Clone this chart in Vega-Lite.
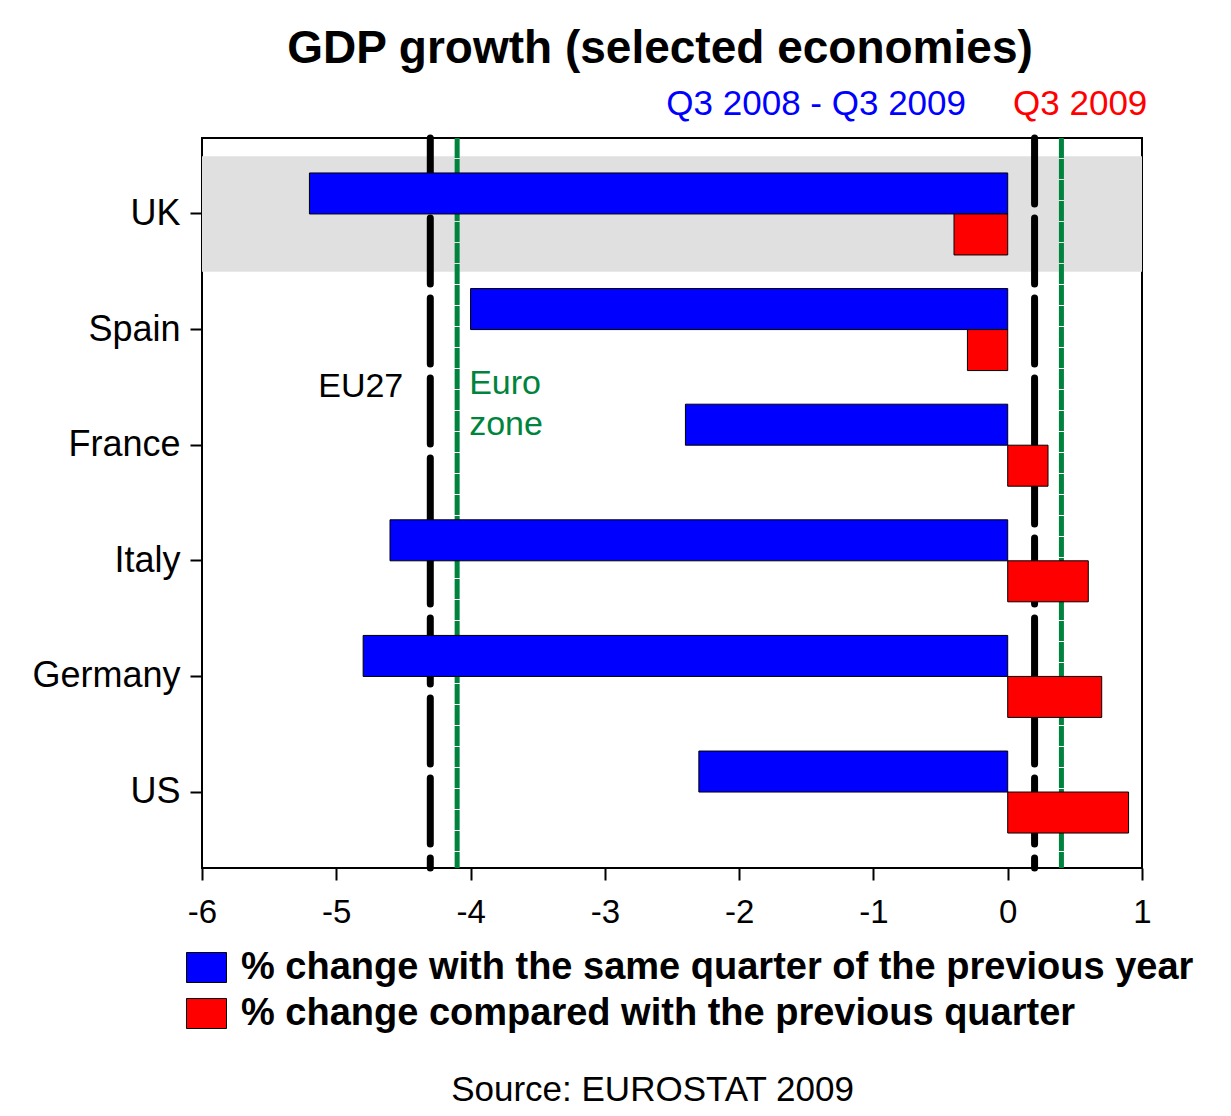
{
  "$schema": "https://vega.github.io/schema/vega-lite/v6.json",
  "width": 940,
  "height": 730,
  "autosize": {"type": "none"},
  "padding": {"left": 202, "top": 138, "right": 89, "bottom": 248},
  "background": "white",
  "title": {
    "text": "GDP growth (selected economies)",
    "fontSize": 46,
    "fontWeight": "bold",
    "font": "Liberation Sans",
    "color": "black",
    "anchor": "middle",
    "frame": "group",
    "dx": -12,
    "offset": 13
  },
  "config": {
    "font": "Liberation Sans",
    "view": {"stroke": "black", "strokeWidth": 2}
  },
  "datasets": {
    "bars": [
      {"country": "UK", "series": "% change with the same quarter of the previous year", "value": -5.2},
      {"country": "UK", "series": "%  change compared with the previous quarter", "value": -0.4},
      {"country": "Spain", "series": "% change with the same quarter of the previous year", "value": -4.0},
      {"country": "Spain", "series": "%  change compared with the previous quarter", "value": -0.3},
      {"country": "France", "series": "% change with the same quarter of the previous year", "value": -2.4},
      {"country": "France", "series": "%  change compared with the previous quarter", "value": 0.3},
      {"country": "Italy", "series": "% change with the same quarter of the previous year", "value": -4.6},
      {"country": "Italy", "series": "%  change compared with the previous quarter", "value": 0.6},
      {"country": "Germany", "series": "% change with the same quarter of the previous year", "value": -4.8},
      {"country": "Germany", "series": "%  change compared with the previous quarter", "value": 0.7},
      {"country": "US", "series": "% change with the same quarter of the previous year", "value": -2.3},
      {"country": "US", "series": "%  change compared with the previous quarter", "value": 0.9}
    ],
    "lines": [
      {"group": "EU27", "value": -4.3},
      {"group": "EU27", "value": 0.2},
      {"group": "Euro zone", "value": -4.1},
      {"group": "Euro zone", "value": 0.4}
    ],
    "band": [{"country": "UK"}],
    "labels": [
      {"label": "EU27", "value": -4.3, "country": "France"},
      {"label": "Euro zone", "value": -4.1, "country": "France"}
    ]
  },
  "layer": [
    {
      "data": {"name": "band"},
      "mark": {"type": "rect", "color": "#e0e0e0"},
      "encoding": {
        "y": {"field": "country", "type": "nominal", "axis": null,
              "scale": {"domain": ["UK", "Spain", "France", "Italy", "Germany", "US"], "paddingInner": 0, "paddingOuter": 0.157}},
        "x": {"datum": -6, "type": "quantitative", "axis": null},
        "x2": {"datum": 1}
      }
    },
    {
      "data": {"name": "lines"},
      "transform": [{"filter": "datum.group === 'EU27'"}],
      "mark": {"type": "rule", "color": "black", "strokeWidth": 7, "strokeDash": [66, 14], "strokeCap": "round"},
      "encoding": {
        "x": {"field": "value", "type": "quantitative",
              "axis": {
                "orient": "top",
                "values": [-1.43, 0.536],
                "labelExpr": "datum.value < 0 ? 'Q3 2008 - Q3 2009' : 'Q3 2009'",
                "labelColor": {"condition": {"test": "datum.value < 0", "value": "#0000ff"}, "value": "#ff0000"},
                "labelFontSize": 35,
                "labelFont": "Liberation Sans",
                "labelPadding": 17,
                "labelLimit": 1000,
                "labelFlush": false,
                "labelOverlap": false,
                "labelBound": false,
                "ticks": false,
                "tickSize": 0,
                "domain": false,
                "grid": false,
                "title": null
              }}
      }
    },
    {
      "data": {"name": "lines"},
      "transform": [{"filter": "datum.group === 'Euro zone'"}],
      "mark": {"type": "rule", "color": "#00843d", "strokeWidth": 5, "strokeDash": [20, 1]},
      "encoding": {
        "x": {"field": "value", "type": "quantitative", "axis": null}
      }
    },
    {
      "mark": {"type": "rule", "color": "#333333", "strokeWidth": 1},
      "encoding": {
        "x": {"datum": 0, "type": "quantitative", "axis": null}
      }
    },
    {
      "data": {"name": "bars"},
      "mark": {"type": "bar", "stroke": "black", "strokeWidth": 1},
      "encoding": {
        "y": {"field": "country", "type": "nominal",
              "scale": {"domain": ["UK", "Spain", "France", "Italy", "Germany", "US"], "paddingInner": 0, "paddingOuter": 0.157},
              "axis": {"title": null, "domain": false, "tickSize": 12, "tickWidth": 2, "tickColor": "black",
                       "labelFontSize": 36, "labelColor": "black", "labelPadding": 10, "labelFont": "Liberation Sans"}},
        "yOffset": {"field": "series", "type": "nominal",
                    "scale": {"domain": ["% change with the same quarter of the previous year", "%  change compared with the previous quarter"], "paddingInner": 0, "paddingOuter": 0.41}},
        "x": {"field": "value", "type": "quantitative",
              "scale": {"domain": [-6, 1], "nice": false, "zero": false},
              "axis": {"orient": "bottom", "values": [-6, -5, -4, -3, -2, -1, 0, 1],
                       "labelExpr": "datum.value < 0 ? '-' + abs(datum.value) : '' + datum.value",
                       "domain": false, "grid": false, "tickSize": 12, "tickWidth": 2, "tickColor": "black",
                       "labelFontSize": 33, "labelColor": "black", "labelPadding": 16, "labelFont": "Liberation Sans",
                       "labelFlush": false,
                       "title": "Source: EUROSTAT 2009", "titleFontSize": 35, "titleFontWeight": "normal",
                       "titleColor": "black", "titlePadding": 143, "titleFont": "Liberation Sans", "titleX": 450}},
        "color": {"field": "series", "type": "nominal",
                  "scale": {"domain": ["% change with the same quarter of the previous year", "%  change compared with the previous quarter"], "range": ["#0000ff", "#ff0000"]},
                  "legend": {"orient": "none", "legendX": -16, "legendY": 809, "direction": "vertical", "title": null,
                             "padding": 0, "symbolType": "M-1,-0.75H1V0.75H-1Z", "symbolSize": 1600,
                             "symbolStrokeColor": "black", "symbolStrokeWidth": 1, "symbolOpacity": 1,
                             "labelFontSize": 38, "labelFontWeight": "bold", "labelColor": "black", "labelFont": "Liberation Sans",
                             "labelLimit": 2000, "labelOffset": 14, "rowPadding": 6}}
      }
    },
    {
      "data": {"name": "labels"},
      "transform": [{"filter": "datum.label === 'EU27'"}],
      "mark": {"type": "text", "align": "right", "baseline": "middle", "fontSize": 34, "color": "black", "dx": -27},
      "encoding": {
        "x": {"field": "value", "type": "quantitative", "axis": null},
        "y": {"field": "country", "type": "nominal", "bandPosition": 0, "axis": null},
        "text": {"field": "label"}
      }
    },
    {
      "data": {"name": "labels"},
      "transform": [{"filter": "datum.label === 'Euro zone'"}],
      "mark": {"type": "text", "align": "left", "baseline": "middle", "fontSize": 34, "color": "#00843d", "dx": 12, "dy": -3, "lineHeight": 41, "text": ["Euro", "zone"]},
      "encoding": {
        "x": {"field": "value", "type": "quantitative", "axis": null},
        "y": {"field": "country", "type": "nominal", "bandPosition": 0, "axis": null}
      }
    }
  ],
  "resolve": {"axis": {"x": "independent", "y": "independent"}}
}
